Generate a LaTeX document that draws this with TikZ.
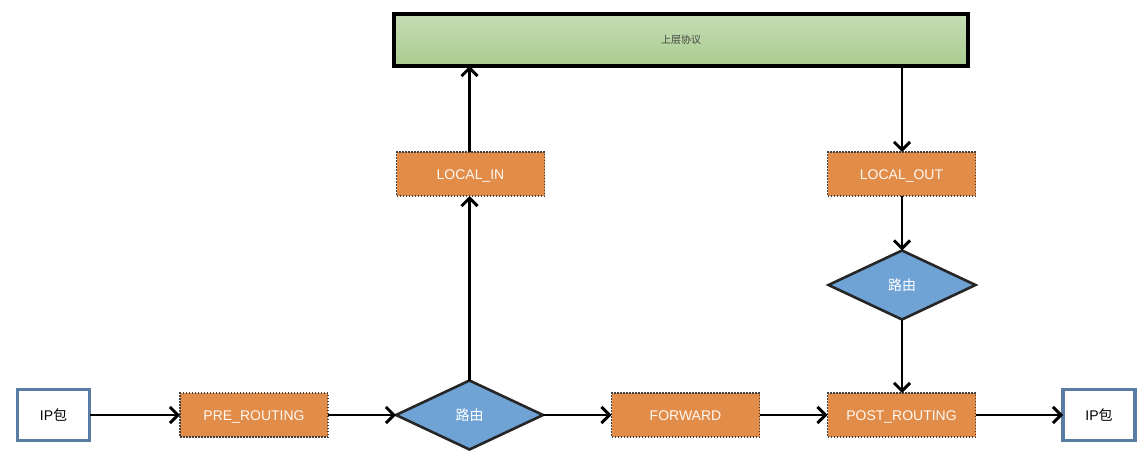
\documentclass[tikz,border=0pt]{standalone}
\usepackage{fontspec}
\setmainfont{Liberation Sans}
\newfontfamily\cjk{Noto Sans CJK SC}
\usetikzlibrary{shapes.geometric,arrows.meta}
\definecolor{orangefill}{HTML}{E28C4A}
\definecolor{bluefill}{HTML}{6FA3D6}
\definecolor{ipborder}{HTML}{5A7EA3}
\definecolor{greentop}{HTML}{C6DDB6}
\definecolor{greenbot}{HTML}{A9CC8F}
\definecolor{dotgray}{HTML}{404040}
\tikzset{
  hook/.style={rectangle, fill=orangefill, draw=dotgray, line width=1.5pt,
    dash pattern=on 1.5pt off 1.5pt, minimum width=148pt, minimum height=44pt,
    inner sep=0pt, outer sep=0pt, text=white!95!orange, font=\fontsize{14}{16}\selectfont,
    text height=10pt, text depth=0pt},
  route/.style={diamond, aspect=2.2, fill=bluefill, draw=black!85, line width=2.6pt,
    minimum width=147pt, minimum height=69pt, inner sep=0pt, outer sep=0pt,
    text=white, font=\fontsize{14}{16}\selectfont\cjk, text height=11pt, text depth=0pt},
  ipbox/.style={rectangle, fill=white, draw=ipborder, line width=3.2pt,
    minimum width=72pt, minimum height=51pt, inner sep=0pt, outer sep=0pt,
    font=\fontsize{14}{16}\selectfont, text height=10.5pt, text depth=0pt},
  conn/.style={draw=black, line width=2.9pt, -{Straight Barb[length=8pt,width=16pt,line width=2.9pt]}},
}
\begin{document}
\begin{tikzpicture}[x=1pt,y=-1pt]
\useasboundingbox (0,0) rectangle (1147,461);
\node[rectangle, top color=greentop, bottom color=greenbot, draw=black, line width=3.2pt,
  minimum width=574pt, minimum height=52pt, inner sep=0pt, outer sep=0pt,
  text=black!75, font=\fontsize{10}{12}\selectfont\cjk] (upper) at (681,40) {上层协议};
\node[hook] (localin) at (470.5,174) {LOCAL\_IN};
\node[hook] (localout) at (901.5,174) {LOCAL\_OUT};
\node[route] (route2) at (902,285) {路由};
\node[ipbox] (ipin) at (53.5,415) {IP{\cjk 包}};
\node[hook] (pre) at (254,415) {PRE\_ROUTING};
\node[route] (route1) at (469.5,415) {路由};
\node[hook] (fwd) at (685.5,415) {FORWARD};
\node[hook] (post) at (901.5,415) {POST\_ROUTING};
\node[ipbox] (ipout) at (1099,415) {IP{\cjk 包}};
\draw[conn] (ipin) -- (pre);
\draw[conn] (pre) -- (route1);
\draw[conn] (route1) -- (fwd);
\draw[conn] (fwd) -- (post);
\draw[conn] (post) -- (ipout);
\draw[conn] (route1.north) -- (route1.north |- localin.south);
\draw[conn] (route1.north |- localin.north) -- (route1.north |- upper.south);
\draw[conn] (route2.north |- upper.south) -- (route2.north |- localout.north);
\draw[conn] (localout.south -| route2.north) -- (route2.north);
\draw[conn] (route2.south) -- (route2.south |- post.north);
\end{tikzpicture}
\end{document}
